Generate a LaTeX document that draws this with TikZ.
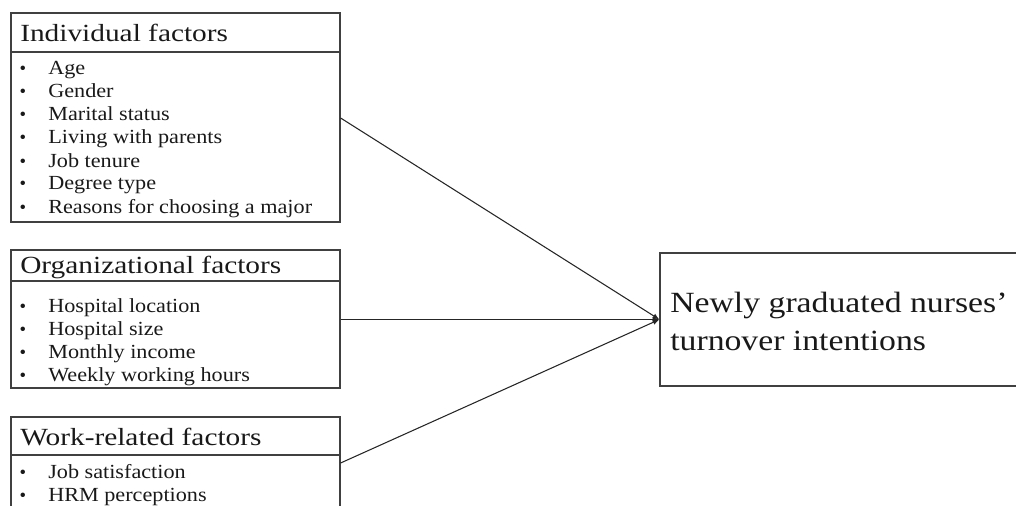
\documentclass[tikz,border=0pt]{standalone}
\usepackage{fontspec}
\setmainfont{Liberation Serif}
\newfontfamily\ttlfont[FakeStretch=1.19]{Liberation Serif}
\newfontfamily\itmfont[FakeStretch=1.11]{Liberation Serif}
\newfontfamily\bigfont[FakeStretch=1.15]{Liberation Serif}
\usetikzlibrary{arrows.meta}
\begin{document}
\begin{tikzpicture}[x=0.75pt,y=-0.75pt,
  boxline/.style={draw=black!75,line width=0.9pt},
  hdr/.style={boxline,minimum width=246.75pt,inner sep=0pt},
  ttl/.style={anchor=base west,inner sep=0pt,font=\ttlfont\fontsize{18.5}{22}\selectfont,text=black!90},
  itm/.style={anchor=base west,inner sep=0pt,font=\itmfont\fontsize{15}{18}\selectfont,text=black!90},
  bul/.style={anchor=base,inner sep=0pt,font=\fontsize{14}{16}\selectfont,text=black!90},
  big/.style={anchor=base west,inner sep=0pt,font=\bigfont\fontsize{22}{26}\selectfont,text=black!90},
  conn/.style={draw=black!85,line width=0.8pt,-{Latex[length=5pt,width=4pt]}}]
\useasboundingbox (0,0) rectangle (1016,506);
\begin{scope}
\clip (0,0) rectangle (1016,506);
% Individual factors
\node[hdr,minimum height=29.25pt] (h1) at (175.5,32.5) {};
\node[hdr,minimum height=127.5pt] (b1) at (175.5,137) {};
\node[ttl] (t1) at (20,42) {Individual factors};
\foreach \y/\t [count=\i] in {75/Age,98/Gender,121/Marital status,144/Living with parents,167/Job tenure,190/Degree type,213/Reasons for choosing a major}{
  \node[bul] (b1u\i) at (23,\y) {•};
  \node[itm] (b1t\i) at (48,\y) {\t};
}
% Organizational factors
\node[hdr,minimum height=23.25pt] (h2) at (175.5,265.5) {};
\node[hdr,minimum height=80.25pt] (b2) at (175.5,334.5) {};
\node[ttl] (t2) at (20,273) {Organizational factors};
\foreach \y/\t [count=\i] in {312/Hospital location,335/Hospital size,358/Monthly income,381/Weekly working hours}{
  \node[bul] (b2u\i) at (23,\y) {•};
  \node[itm] (b2t\i) at (48,\y) {\t};
}
% Work-related factors
\node[hdr,minimum height=28.5pt] (h3) at (175.5,436) {};
\node[hdr,minimum height=45pt] (b3) at (175.5,485) {};
\node[ttl] (t3) at (20,445) {Work-related factors};
\foreach \y/\t [count=\i] in {478/Job satisfaction,501/HRM perceptions}{
  \node[bul] (b3u\i) at (23,\y) {•};
  \node[itm] (b3t\i) at (48,\y) {\t};
}
% Outcome
\node[boxline,minimum width=277.5pt,minimum height=99.75pt,inner sep=0pt] (out) at (845,319.5) {};
\node[big] (o1) at (670,312) {Newly graduated nurses’};
\node[big] (o2) at (670,350) {turnover intentions};
\coordinate (s1) at (b1.east |- 0,118);
\coordinate (s3) at (b3.east |- 0,463);
\coordinate (s2) at (b2.east |- out.west);
\draw[conn] (s1) -- (out.west);
\draw[conn] (s2) -- (out.west);
\draw[conn] (s3) -- (out.west);
\end{scope}
\end{tikzpicture}
\end{document}
